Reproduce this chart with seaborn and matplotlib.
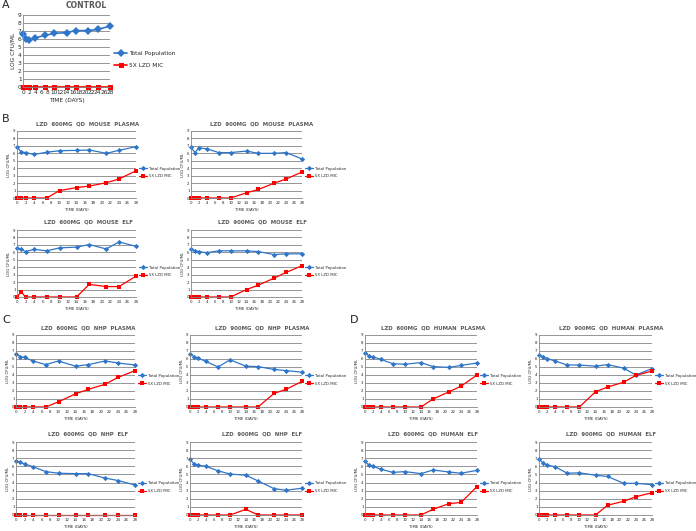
import matplotlib
matplotlib.use("Agg")
import matplotlib.pyplot as plt
import seaborn as sns
import pandas as pd

# sampling days shared by every panel
DAYS = [0, 1, 2, 4, 7, 10, 14, 17, 21, 24, 28]
SERIES = ["Total Population", "5X LZD MIC"]

# A - control
control_total = [6.6, 6.0, 5.85, 6.15, 6.45, 6.7, 6.8, 7.05, 7.05, 7.2, 7.6]
control_mic = [0, 0, 0, 0, 0, 0, 0, 0, 0, 0, 0]

# B - mouse
mouse_plasma_600_total = [6.85, 6.2, 6.1, 5.85, 6.15, 6.35, 6.4, 6.45, 6.0, 6.4, 6.9]
mouse_plasma_600_mic = [0, 0, 0, 0, 0, 1.0, 1.4, 1.6, 2.05, 2.55, 3.65]
mouse_plasma_900_total = [6.8, 6.1, 6.75, 6.6, 6.1, 6.1, 6.3, 6.0, 6.0, 6.1, 5.25]
mouse_plasma_900_mic = [0, 0, 0, 0, 0, 0, 0.7, 1.15, 2.0, 2.55, 3.5]
mouse_elf_600_total = [6.6, 6.4, 6.1, 6.4, 6.2, 6.6, 6.7, 7.05, 6.45, 7.4, 6.8]
mouse_elf_600_mic = [0, 0.7, 0, 0, 0, 0, 0, 1.7, 1.4, 1.4, 2.8]
mouse_elf_900_total = [6.5, 6.2, 6.1, 5.95, 6.2, 6.2, 6.2, 6.1, 5.7, 5.8, 5.8]
mouse_elf_900_mic = [0, 0, 0, 0, 0, 0, 1.0, 1.6, 2.55, 3.3, 4.2]

# C - NHP
nhp_plasma_600_total = [6.65, 6.3, 6.2, 5.75, 5.3, 5.75, 5.1, 5.3, 5.75, 5.5, 5.25]
nhp_plasma_600_mic = [0, 0, 0, 0, 0, 0.65, 1.65, 2.2, 2.85, 3.7, 4.55]
nhp_plasma_900_total = [6.65, 6.3, 6.1, 5.7, 5.0, 5.9, 5.1, 5.05, 4.7, 4.55, 4.35]
nhp_plasma_900_mic = [0, 0, 0, 0, 0, 0, 0, 0, 1.7, 2.2, 3.2]
nhp_elf_600_total = [6.65, 6.5, 6.3, 5.95, 5.35, 5.15, 5.1, 5.1, 4.55, 4.25, 3.7]
nhp_elf_600_mic = [0, 0, 0, 0, 0, 0, 0, 0, 0, 0, 0]
nhp_elf_900_total = [6.85, 6.3, 6.15, 6.0, 5.45, 5.05, 4.9, 4.2, 3.25, 3.05, 3.3]
nhp_elf_900_mic = [0, 0, 0, 0, 0, 0, 0.7, 0, 0, 0, 0]

# D - human
human_plasma_600_total = [6.8, 6.4, 6.25, 5.95, 5.4, 5.35, 5.55, 5.05, 4.95, 5.2, 5.5]
human_plasma_600_mic = [0, 0, 0, 0, 0, 0, 0, 1.0, 1.9, 2.6, 4.0]
human_plasma_900_total = [6.45, 6.3, 6.05, 5.75, 5.25, 5.25, 5.1, 5.3, 4.85, 4.0, 4.8]
human_plasma_900_mic = [0, 0, 0, 0, 0, 0, 1.9, 2.5, 3.1, 3.95, 4.5]
human_elf_600_total = [6.6, 6.15, 6.0, 5.65, 5.25, 5.35, 5.1, 5.55, 5.3, 5.15, 5.5]
human_elf_600_mic = [0, 0, 0, 0, 0, 0, 0, 0.7, 1.4, 1.55, 3.5]
human_elf_900_total = [6.85, 6.45, 6.15, 5.95, 5.15, 5.2, 4.9, 4.75, 3.9, 3.9, 3.75]
human_elf_900_mic = [0, 0, 0, 0, 0, 0, 0, 1.2, 1.7, 2.25, 2.75]

W, H = 696, 531
BLUE = "#2f75c8"
RED = "#ff0000"
GRID = "#858585"


def draw_panel(fig, box, title, title_xy, total, mic, big=False):
    """Draw one Excel-like time-kill panel; box is (left, top, right, bottom) in px"""
    left, top, right, bottom = box
    ax = fig.add_axes([left / W, 1 - bottom / H, (right - left) / W, (bottom - top) / H])

    df = pd.DataFrame({
        "day": DAYS * 2,
        "log": total + mic,
        "series": [SERIES[0]] * len(DAYS) + [SERIES[1]] * len(DAYS),
    })
    sns.lineplot(
        data=df, x="day", y="log", hue="series", style="series",
        palette={SERIES[0]: BLUE, SERIES[1]: RED},
        markers={SERIES[0]: "D", SERIES[1]: "s"}, dashes=False,
        linewidth=1.2 if big else 0.9,
        markersize=3.6 if big else 2.7,
        markeredgewidth=0, clip_on=False, ax=ax,
    )

    fs = 4.2 if big else 2.8

    # Y axis
    ax.set_ylim(0, 9)
    ax.set_yticks(range(10))
    ax.yaxis.grid(True, color=GRID, linewidth=0.6)
    ax.set_ylabel("LOG CFU/ML", fontsize=fs, labelpad=1.5)

    # X axis
    ax.set_xlim(0, 28)
    ax.set_xticks(range(0, 29, 2))
    ax.set_xlabel("TIME (DAYS)", fontsize=fs, labelpad=1.5)
    ax.tick_params(labelsize=fs, length=1.5, width=0.5, color=GRID, pad=1)
    ax.tick_params(axis="y", length=0)

    for side in ["top", "right"]:
        ax.spines[side].set_visible(False)
    for side in ["left", "bottom"]:
        ax.spines[side].set_color(GRID)
        ax.spines[side].set_linewidth(0.6)

    # Legend right of the plot
    handles, labels = ax.get_legend_handles_labels()
    ax.legend(handles, labels, loc="center left", bbox_to_anchor=(1.0, 0.38),
              frameon=False, fontsize=fs, handlelength=2.2, handletextpad=0.4,
              labelspacing=1.2 if big else 1.0, borderaxespad=0.3)

    # Chart title
    fig.text(title_xy[0] / W, 1 - title_xy[1] / H, title, ha="center", va="center",
             fontsize=5.5 if big else 3.9, weight="bold", color="#595959")
    return ax


fig = plt.figure(figsize=(W / 100, H / 100), dpi=100)
sns.set_style("white")

panels = [
    ((23, 15, 110, 87), "CONTROL", (86, 6), control_total, control_mic, True),
    ((17, 131, 136, 198), "LZD  600MG  QD  MOUSE  PLASMA", (88, 124),
     mouse_plasma_600_total, mouse_plasma_600_mic, False),
    ((191, 131, 302, 198), "LZD  900MG  QD  MOUSE  PLASMA", (262, 124),
     mouse_plasma_900_total, mouse_plasma_900_mic, False),
    ((17, 230, 136, 297), "LZD  600MG  QD  MOUSE  ELF", (88, 222),
     mouse_elf_600_total, mouse_elf_600_mic, False),
    ((191, 230, 302, 297), "LZD  900MG  QD  MOUSE  ELF", (262, 222),
     mouse_elf_900_total, mouse_elf_900_mic, False),
    ((16, 335, 135, 407), "LZD  600MG  QD  NHP  PLASMA", (88, 328),
     nhp_plasma_600_total, nhp_plasma_600_mic, False),
    ((190, 335, 302, 407), "LZD  900MG  QD  NHP  PLASMA", (262, 328),
     nhp_plasma_900_total, nhp_plasma_900_mic, False),
    ((16, 442, 135, 515), "LZD  600MG  QD  NHP  ELF", (88, 434),
     nhp_elf_600_total, nhp_elf_600_mic, False),
    ((190, 442, 302, 515), "LZD  900MG  QD  NHP  ELF", (262, 434),
     nhp_elf_900_total, nhp_elf_900_mic, False),
    ((365, 335, 477, 407), "LZD  600MG  QD  HUMAN  PLASMA", (433, 328),
     human_plasma_600_total, human_plasma_600_mic, False),
    ((539, 335, 652, 407), "LZD  900MG  QD  HUMAN  PLASMA", (611, 328),
     human_plasma_900_total, human_plasma_900_mic, False),
    ((365, 442, 477, 515), "LZD  600MG  QD  HUMAN  ELF", (433, 434),
     human_elf_600_total, human_elf_600_mic, False),
    ((539, 442, 652, 515), "LZD  900MG  QD  HUMAN  ELF", (611, 434),
     human_elf_900_total, human_elf_900_mic, False),
]

for box, title, title_xy, total, mic, big in panels:
    draw_panel(fig, box, title, title_xy, total, mic, big)

# Panel letters
for letter, (x, y) in {"A": (2, 5), "B": (2, 119), "C": (2, 320), "D": (350, 320)}.items():
    fig.text(x / W, 1 - y / H, letter, fontsize=8, ha="left", va="center", color="#222222")

fig.savefig("out.png", dpi=100)
